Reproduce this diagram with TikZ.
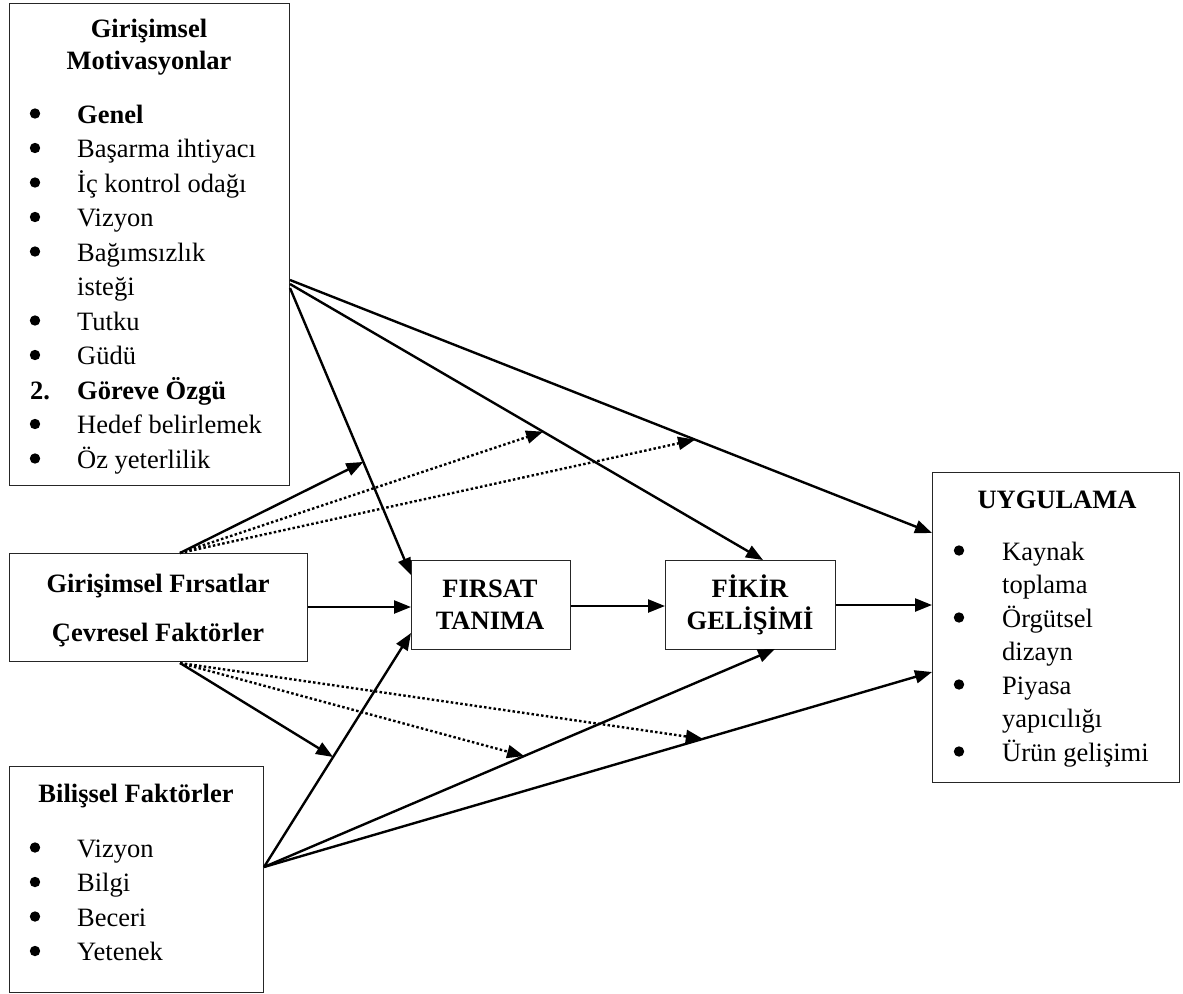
\documentclass[tikz,border=0pt]{standalone}
\usepackage{fontspec}
\setmainfont{Liberation Serif}
\usetikzlibrary{arrows.meta}
\begin{document}
\begin{tikzpicture}[x=1pt,y=-1pt,
  box/.style={draw=black!85, line width=1.3pt, fill=white, anchor=north west, inner sep=0pt},
  txt/.style={anchor=base west, inner sep=0pt, font=\fontsize{26.5}{32}\selectfont},
  btxt/.style={txt, font=\fontsize{26.5}{32}\selectfont\bfseries},
  ttl/.style={anchor=base, inner sep=0pt, font=\fontsize{26.5}{32}\selectfont\bfseries},
  arr/.style={line width=2.4pt, -{Triangle[length=17pt,width=13pt]}},
  dotarr/.style={arr, dash pattern=on 2.5pt off 2.3pt},
  bul/.style={fill=black},
]
\useasboundingbox (0,0) rectangle (1183,993);

% boxes
\node[box, minimum width=280pt, minimum height=482pt] (mot) at (9,3) {};
\node[box, minimum width=298pt, minimum height=108pt] (fir) at (9,553) {};
\node[box, minimum width=254pt, minimum height=226pt] (bil) at (9,766) {};
\node[box, minimum width=159pt, minimum height=89pt] (ft) at (411,560) {};
\node[box, minimum width=170pt, minimum height=89pt] (fg) at (665,560) {};
\node[box, minimum width=247pt, minimum height=310pt] (uyg) at (932,472) {};

% Motivasyonlar text
\node[ttl] (t1a) at (149,37) {Girişimsel};
\node[ttl] (t1b) at (149,69) {Motivasyonlar};
\node[btxt] (m0) at (77,123) {Genel};
\foreach \t/\y [count=\i] in {Başarma ihtiyacı/157.5, İç kontrol odağı/192, Vizyon/226.5, Bağımsızlık/261, Tutku/330, Güdü/364.5, Hedef belirlemek/433.5, Öz yeterlilik/468}
  {\node[txt] (mi\i) at (77,\y) {\t};}
\node[txt] (mist) at (77,295.5) {isteği};
\node[btxt] (mnum) at (30,399) {2.};
\node[btxt] (mgor) at (77,399) {Göreve Özgü};
\foreach \y in {123,157.5,192,226.5,261,330,364.5,433.5,468}
  {\fill[bul] (35,\y-9.5) circle (5.2pt);}

% Firsatlar text
\node[ttl] (t2a) at (158,592) {Girişimsel Fırsatlar};
\node[ttl] (t2b) at (158,641) {Çevresel Faktörler};

% Bilissel text
\node[ttl] (t3) at (136,802) {Bilişsel Faktörler};
\foreach \t/\y [count=\i] in {Vizyon/857, Bilgi/891.5, Beceri/926, Yetenek/960.5}
  {\node[txt] (bi\i) at (77,\y) {\t};
   \fill[bul] (35,\y-9.5) circle (5.2pt);}

% center boxes text
\node[ttl] (ft1) at (490,597) {FIRSAT};
\node[ttl] (ft2) at (490,629) {TANIMA};
\node[ttl] (fg1) at (750,597) {FİKİR};
\node[ttl] (fg2) at (750,629) {GELİŞİMİ};

% Uygulama text
\node[ttl] (t4) at (1057,508) {UYGULAMA};
\foreach \t/\y [count=\i] in {Kaynak/560, toplama/593.5, Örgütsel/627, dizayn/660.5, Piyasa/694, yapıcılığı/727.5, Ürün gelişimi/761}
  {\node[txt] (ui\i) at (1002,\y) {\t};}
\foreach \y in {560,627,694,761}
  {\fill[bul] (959,\y-9.5) circle (5.2pt);}

% connection points
\coordinate (mo1) at (290,288);
\coordinate (mo2) at (290,284);
\coordinate (mo3) at (290,280);
\coordinate (fo) at (180,553);
\coordinate (fu) at (180,663);
\coordinate (bo) at (264,867);
\coordinate (ftA) at (411,575);
\coordinate (ftB) at (411,633);
\coordinate (fgA) at (763,560);
\coordinate (fgB) at (775,649);
\coordinate (uA) at (932,533);
\coordinate (uB) at (932,672);

% main arrows
\draw[arr] (mo1) -- (ftA) coordinate[pos=0.606] (x1);
\draw[arr] (mo2) -- (fgA) coordinate[pos=0.535] (x2);
\draw[arr] (mo3) -- (uA) coordinate[pos=0.631] (x3);
\draw[arr] (bo) -- (ftB) coordinate[pos=0.47] (y1);
\draw[arr] (bo) -- (fgB) coordinate[pos=0.509] (y2);
\draw[arr] (bo) -- (uB) coordinate[pos=0.657] (y3);
\draw[arr] (fir.east |- 0,607) -- (ft.west |- 0,607);
\draw[arr] (ft.east |- 0,606) -- (fg.west |- 0,606);
\draw[arr] (fg.east |- 0,605) -- (uyg.west |- 0,605);

% moderating arrows
\draw[arr] (fo) -- (x1);
\draw[dotarr] (fo) -- (x2);
\draw[dotarr] (fo) -- (x3);
\draw[arr] (fu) -- (y1);
\draw[dotarr] (fu) -- (y2);
\draw[dotarr] (fu) -- (y3);
\end{tikzpicture}
\end{document}
